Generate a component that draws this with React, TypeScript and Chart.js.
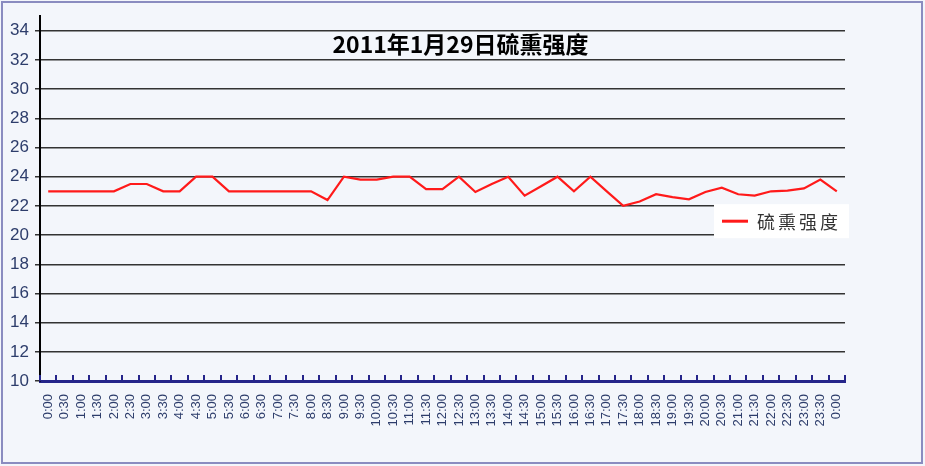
import { useEffect, useRef } from "react";
import { Chart, registerables } from "chart.js";

Chart.register(...registerables);

const TITLE = "2011年1月29日硫熏强度";
const SERIES_NAME = "硫熏强度";

const TIME_LABELS = [
  "0:00", "0:30", "1:00", "1:30", "2:00", "2:30", "3:00", "3:30", "4:00", "4:30",
  "5:00", "5:30", "6:00", "6:30", "7:00", "7:30", "8:00", "8:30", "9:00", "9:30",
  "10:00", "10:30", "11:00", "11:30", "12:00", "12:30", "13:00", "13:30", "14:00", "14:30",
  "15:00", "15:30", "16:00", "16:30", "17:00", "17:30", "18:00", "18:30", "19:00", "19:30",
  "20:00", "20:30", "21:00", "21:30", "22:00", "22:30", "23:00", "23:30", "0:00",
];

const SULFUR_VALUES = [
  23, 23, 23, 23, 23, 23.5, 23.5, 23, 23, 24,
  24, 23, 23, 23, 23, 23, 23, 22.4, 24, 23.8,
  23.8, 24, 24, 23.15, 23.15, 24, 22.95, 23.5, 24, 22.7,
  23.35, 24, 23, 24, 23, 22, 22.3, 22.8, 22.6, 22.45,
  22.95, 23.25, 22.8, 22.7, 23, 23.05, 23.2, 23.8, 23,
];

const Y_MIN = 10;
const Y_MAX = 35;
const Y_STEP = 2;

const BG = "#f3f6fb";
const NAVY = "#25258a";
const LABEL_BLUE = "#2d3d6b";
const LINE_RED = "#ff1a1a";

export default function App() {
  const ref = useRef<HTMLCanvasElement | null>(null);

  useEffect(() => {
    document.body.style.margin = "0";
    const canvas = ref.current;
    if (!canvas) return;

    const framePlugin = {
      id: "frame",
      beforeDraw(chart: any) {
        const { ctx, width, height } = chart;
        ctx.save();
        ctx.fillStyle = BG;
        ctx.fillRect(0, 0, width, height);
        ctx.strokeStyle = "#8a8cc0";
        ctx.lineWidth = 2;
        ctx.strokeRect(2, 2, width - 5, height - 5);
        ctx.restore();
      },
      afterDraw(chart: any) {
        const { ctx, chartArea } = chart;
        const xs = chart.scales.x;
        ctx.save();
        const n = TIME_LABELS.length;
        const w = (xs.right - xs.left) / n;
        ctx.strokeStyle = NAVY;
        ctx.lineWidth = 2;
        ctx.beginPath();
        for (let k = 0; k <= n; k++) {
          const x = Math.round(xs.left + k * w);
          ctx.moveTo(x, chartArea.bottom);
          ctx.lineTo(x, chartArea.bottom - 6);
        }
        ctx.stroke();

        ctx.fillStyle = "#000";
        ctx.font = "bold 23px 'Liberation Sans Narrow', 'Noto Sans CJK SC', sans-serif";
        ctx.textAlign = "center";
        ctx.textBaseline = "middle";
        ctx.fillText(TITLE, chart.width / 2 - 2, 44);

        const bw = 135;
        const bh = 34;
        const bx = chartArea.right + 4 - bw;
        const by = chartArea.top + 188;
        ctx.fillStyle = "#ffffff";
        ctx.fillRect(bx, by, bw, bh);
        ctx.strokeStyle = LINE_RED;
        ctx.lineWidth = 3;
        ctx.beginPath();
        ctx.moveTo(bx + 8, by + bh / 2);
        ctx.lineTo(bx + 34, by + bh / 2);
        ctx.stroke();
        ctx.fillStyle = "#333333";
        ctx.font = "18px 'Noto Sans CJK SC', sans-serif";
        ctx.textAlign = "left";
        (ctx as any).letterSpacing = "3px";
        ctx.fillText(SERIES_NAME, bx + 43, by + bh / 2 + 1);
        ctx.restore();
      },
    };

    const chart = new Chart(canvas, {
      type: "line",
      data: {
        labels: TIME_LABELS,
        datasets: [
          {
            label: SERIES_NAME,
            data: SULFUR_VALUES,
            borderColor: LINE_RED,
            borderWidth: 2.2,
            pointRadius: 0,
            tension: 0,
            fill: false,
          },
        ],
      },
      options: {
        animation: false,
        responsive: true,
        maintainAspectRatio: false,
        layout: { padding: { left: 0, top: 15, right: 80, bottom: 0 } },
        plugins: {
          legend: { display: false },
          title: { display: false },
          tooltip: { enabled: false },
        },
        scales: {
          x: {
            type: "category",
            offset: true,
            afterFit(scale: any) {
              scale.height = 85;
            },
            grid: { display: false, drawTicks: false },
            border: { display: true, color: NAVY, width: 3 },
            ticks: {
              autoSkip: false,
              minRotation: 90,
              maxRotation: 90,
              padding: 13,
              color: LABEL_BLUE,
              font: { family: "'Liberation Sans', sans-serif", size: 13 },
            },
          },
          y: {
            min: Y_MIN,
            max: Y_MAX,
            afterFit(scale: any) {
              scale.width = 40;
            },
            grid: {
              color: "#333333",
              lineWidth: 1.5,
              drawTicks: true,
              tickLength: 5,
            },
            border: { display: true, color: "#000000", width: 2 },
            ticks: {
              stepSize: Y_STEP,
              includeBounds: false,
              padding: 6,
              color: LABEL_BLUE,
              font: { family: "'Liberation Sans', sans-serif", size: 17 },
            },
          },
        },
      },
      plugins: [framePlugin],
    });

    return () => chart.destroy();
  }, []);

  return (
    <div style={{ position: "absolute", left: 0, top: 0, width: 925, height: 466 }}>
      <canvas ref={ref} />
    </div>
  );
}
